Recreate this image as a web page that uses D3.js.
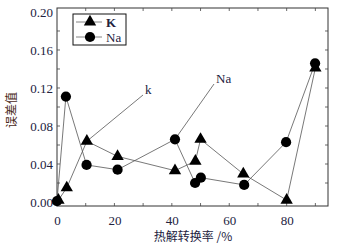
<!DOCTYPE html>
<html><head><meta charset="utf-8">
<script src="https://cdn.jsdelivr.net/npm/d3@7"></script>
<style>body{margin:0;background:#fff}svg{display:block}</style>
</head><body>
<script>
const kX = [0.5, 3.4, 10.4, 21.1, 41.1, 48.2, 50.0, 64.9, 80.0, 90.0];
const kY = [0.002, 0.015, 0.064, 0.048, 0.033, 0.043, 0.066, 0.0295, 0.002, 0.141];
const naX = [0, 3.1, 10.3, 21.1, 41.1, 48.1, 50.1, 65.2, 79.8, 89.9];
const naY = [0.001, 0.111, 0.039, 0.034, 0.066, 0.020, 0.0256, 0.018, 0.063, 0.146];
const xTickLabels = [0, 20, 40, 60, 80];
const yTickLabels = [0.00, 0.04, 0.08, 0.12, 0.16, 0.20];
const seriesNames = ["K", "Na"];
const annotations = [
  {text: "k", series: 0, idx: 2},
  {text: "Na", series: 1, idx: 4}
];

const W = 338, H = 245;
const L = 57, R = 328, T = 8, B = 206;
const x = d3.scaleLinear().domain([0, 94.4]).range([L, R]);
const y = d3.scaleLinear().domain([-0.0042, 0.2042]).range([B, T]);

const svg = d3.select("body").append("svg").attr("width", W).attr("height", H);
const serif = "'Liberation Serif', 'DejaVu Serif', serif";
const txtCol = "#22223e";

svg.append("rect").attr("x", L).attr("y", T).attr("width", R - L).attr("height", B - T)
  .attr("fill", "#fff").attr("stroke", "#333").attr("stroke-width", 1);

const xt = d3.range(10, 91, 10);
const yt = d3.range(0.02, 0.2, 0.02);
const tk = svg.append("g").attr("stroke", "#444").attr("stroke-width", 0.8);
xt.forEach(v => {
  tk.append("line").attr("x1", x(v)).attr("x2", x(v)).attr("y1", B).attr("y2", B - 3);
  tk.append("line").attr("x1", x(v)).attr("x2", x(v)).attr("y1", T).attr("y2", T + 3);
});
yt.forEach(v => {
  tk.append("line").attr("x1", L).attr("x2", L + 3).attr("y1", y(v)).attr("y2", y(v));
  tk.append("line").attr("x1", R).attr("x2", R - 3).attr("y1", y(v)).attr("y2", y(v));
});

const xAxis = d3.axisBottom(x).tickValues(xTickLabels).tickSize(0).tickPadding(10).tickFormat(d3.format("d"));
const gx = svg.append("g").attr("transform", `translate(0,${B})`).call(xAxis);
gx.select(".domain").remove();
gx.selectAll("text").attr("font-family", serif).attr("font-size", 13).attr("fill", txtCol);

const yAxis = d3.axisLeft(y).tickValues(yTickLabels).tickSize(0).tickPadding(4).tickFormat(d3.format(".2f"));
const gy = svg.append("g").attr("transform", `translate(${L},0)`).call(yAxis);
gy.select(".domain").remove();
gy.selectAll("text").attr("font-family", serif).attr("font-size", 13).attr("fill", txtCol);

svg.append("text").attr("x", 193).attr("y", 241).attr("text-anchor", "middle")
  .attr("font-family", "'Noto Sans CJK SC', sans-serif").attr("font-size", 12).attr("fill", txtCol)
  .text("热解转换率 /%");
svg.append("text").attr("transform", "translate(16,110) rotate(-90)").attr("text-anchor", "middle")
  .attr("font-family", "'Noto Sans CJK SC', sans-serif").attr("font-size", 12).attr("fill", "#4a2a1a")
  .text("误差值");

const series = [
  {name: seriesNames[0], xs: kX, ys: kY, sym: d3.symbolTriangle, size: 66},
  {name: seriesNames[1], xs: naX, ys: naY, sym: d3.symbolCircle, size: 82}
];
const line = d3.line().x(d => x(d[0])).y(d => y(d[1]));
series.forEach(s => {
  const pts = s.xs.map((v, i) => [v, s.ys[i]]);
  svg.append("path").attr("d", line(pts)).attr("fill", "none").attr("stroke", "#555").attr("stroke-width", 0.8);
});

const annPos = [[145, 94], [216, 83]];
annotations.forEach((a, j) => {
  const s = series[a.series];
  const px = x(s.xs[a.idx]), py = y(s.ys[a.idx]);
  const [tx, ty] = annPos[j];
  svg.append("line").attr("x1", px).attr("y1", py).attr("x2", tx - 2).attr("y2", ty + 1)
    .attr("stroke", "#555").attr("stroke-width", 0.8);
  svg.append("text").attr("x", tx).attr("y", ty).attr("font-family", serif).attr("font-size", 13)
    .attr("fill", txtCol).text(a.text);
});

series.forEach(s => {
  const pts = s.xs.map((v, i) => [v, s.ys[i]]);
  svg.append("g").selectAll("path").data(pts).join("path")
    .attr("transform", d => `translate(${x(d[0])},${y(d[1])})`)
    .attr("d", d3.symbol().type(s.sym).size(s.size)).attr("fill", "#000");
});

const lg = svg.append("g");
lg.append("rect").attr("x", 73).attr("y", 14).attr("width", 53).attr("height", 31)
  .attr("fill", "#fff").attr("stroke", "#111").attr("stroke-width", 1);
series.forEach((s, i) => {
  const cy = 22 + i * 15;
  lg.append("line").attr("x1", 76).attr("x2", 102).attr("y1", cy).attr("y2", cy).attr("stroke", "#666").attr("stroke-width", 0.8);
  lg.append("path").attr("transform", `translate(90,${cy})`).attr("d", d3.symbol().type(s.sym).size(s.size)).attr("fill", "#000");
  lg.append("text").attr("x", 106).attr("y", cy + 4.5).attr("font-family", serif).attr("font-size", 13)
    .attr("font-weight", s.name === "K" ? "bold" : "normal").attr("fill", txtCol).text(s.name);
});
</script>
</body></html>
